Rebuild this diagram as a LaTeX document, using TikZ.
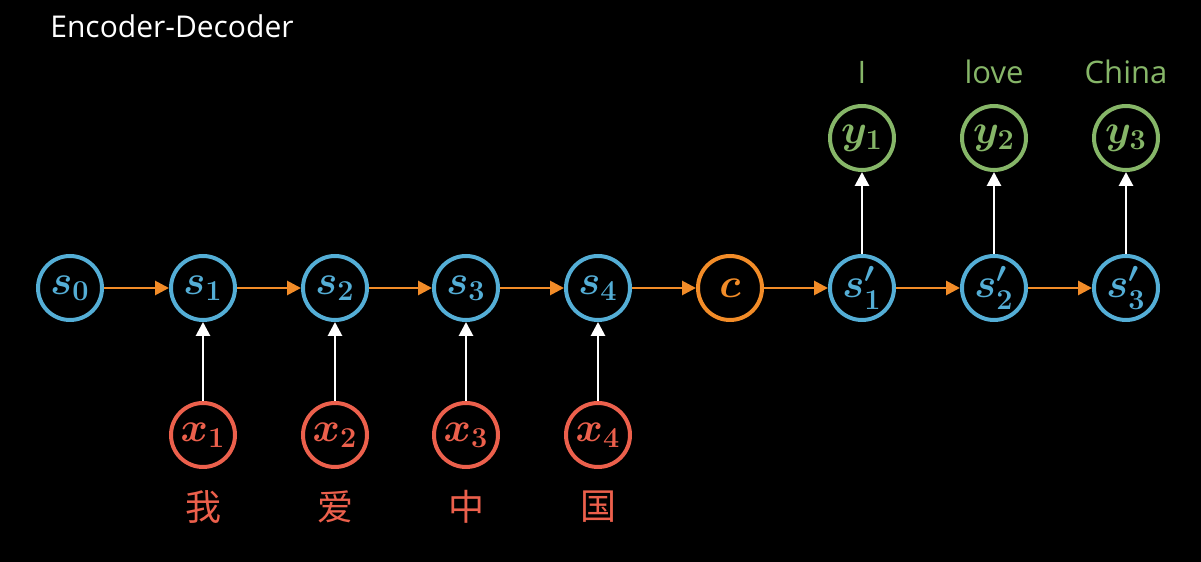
\documentclass[tikz,border=0pt]{standalone}
\usepackage{fontspec}
\setmainfont{Open Sans}
\newfontfamily\cjk{Noto Sans CJK SC}
\usetikzlibrary{arrows.meta}
\definecolor{encblue}{RGB}{84,174,214}
\definecolor{arrorange}{RGB}{242,140,40}
\definecolor{inred}{RGB}{236,96,76}
\definecolor{outgreen}{RGB}{134,182,104}

\begin{document}
\begin{tikzpicture}[
  x=0.5pt, y=0.5pt,
  state/.style={circle, draw, line width=2pt, minimum size=32pt, inner sep=0pt,
    font=\fontsize{21}{24}\selectfont\boldmath},
  hid/.style={state, draw=encblue, text=encblue},
  ctx/.style={state, draw=arrorange, text=arrorange},
  inp/.style={state, draw=inred, text=inred},
  outp/.style={state, draw=outgreen, text=outgreen},
  farr/.style={-{Triangle[length=7pt,width=7pt]}, line width=1.4pt, draw=arrorange},
  uarr/.style={-{Triangle[length=7pt,width=7pt]}, line width=1.4pt, draw=white},
  word/.style={font=\cjk\fontsize{18}{20}\selectfont, text=inred},
  eng/.style={font=\fontsize{15.5}{18}\selectfont, text=outgreen, anchor=base}
]
\useasboundingbox[fill=black] (0,0) rectangle (1201,562);

% title
\node[anchor=base west, inner sep=0pt, text=white, font=\fontsize{15}{18}\selectfont]
  (title) at (50,524) {Encoder-Decoder};

% encoder states
\foreach \i/\px in {0/70,1/203,2/335,3/466,4/598}
  \node[hid] (s\i) at (\px,274) {$s_{\i}$};

% context vector
\node[ctx] (c) at (730,274) {$c$};

% decoder states
\foreach \i/\px in {1/862,2/994,3/1126}
  \node[hid] (d\i) at (\px,274) {$s'_{\i}$};

% inputs
\foreach \i/\px/\w in {1/203/我,2/335/爱,3/466/中,4/598/国} {
  \node[inp] (x\i) at (\px,127) {$x_{\i}$};
  \node[word] (w\i) at (\px,55) {\w};
  \draw[uarr] (x\i) -- (s\i);
}

% outputs
\foreach \i/\px/\t in {1/862/I,2/994/love,3/1126/China} {
  \node[outp] (y\i) at (\px,424) {$y_{\i}$};
  \node[eng] (t\i) at (\px,478) {\t};
  \draw[uarr] (d\i) -- (y\i);
}

% recurrent chain
\foreach \a/\b in {s0/s1,s1/s2,s2/s3,s3/s4,s4/c,c/d1,d1/d2,d2/d3}
  \draw[farr] (\a) -- (\b);

\end{tikzpicture}
\end{document}
